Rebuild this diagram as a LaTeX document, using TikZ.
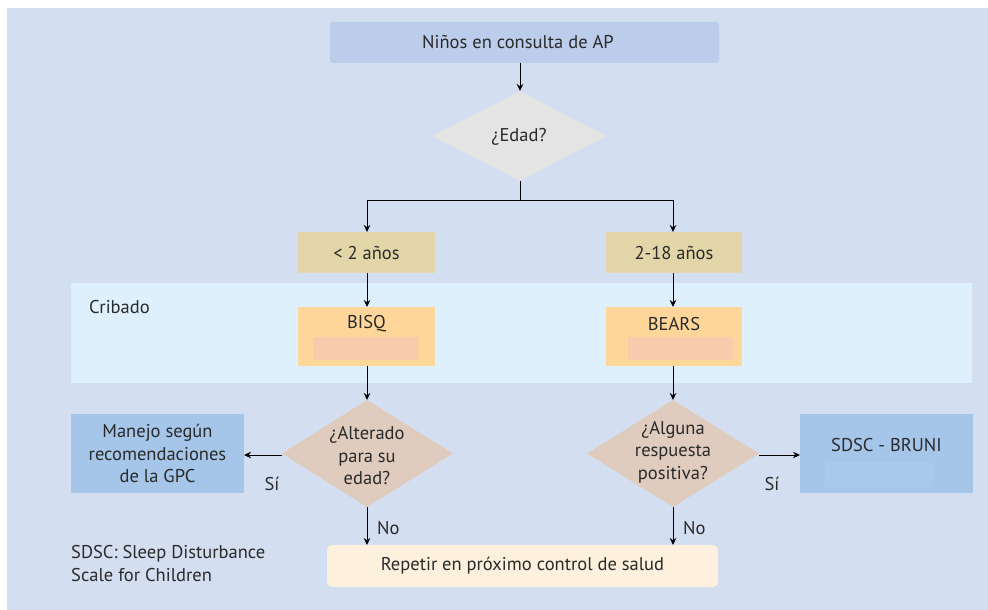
\documentclass[tikz,border=0pt]{standalone}
\usepackage{fontspec}
\setmainfont{PT Sans}
\usetikzlibrary{shapes.geometric,arrows.meta}
\definecolor{bgc}{HTML}{D3DEF0}
\definecolor{topc}{HTML}{BCCDEB}
\definecolor{diagc}{HTML}{E4E4E4}
\definecolor{agec}{HTML}{E2D5A8}
\definecolor{cribc}{HTML}{DEF0FC}
\definecolor{testc}{HTML}{FED69A}
\definecolor{testin}{HTML}{F7CBAE}
\definecolor{decc}{HTML}{DFCCBF}
\definecolor{outc}{HTML}{A5C5E9}
\definecolor{outin}{HTML}{A9C9EA}
\definecolor{repc}{HTML}{FDF0DC}
\definecolor{txt}{HTML}{2A2A2A}
\tikzset{
  x=1pt,y=-1pt,
  every node/.style={text=txt,font=\fontsize{18.5}{22}\selectfont,inner sep=0pt},
  arr/.style={draw=black,line width=1pt,-{Stealth[length=7pt,width=6.5pt]}},
  ln/.style={draw=black,line width=1pt},
  ml/.style={align=center,font=\fontsize{18.5}{22.5}\selectfont},
}
\begin{document}
\begin{tikzpicture}
\useasboundingbox (0,0) rectangle (988,610);
\fill[white] (0,0) rectangle (988,610);
\fill[bgc] (7,8) rectangle (988,610);
% cribado band
\fill[cribc] (71,283) rectangle (972,383);
\node[anchor=west] (crib) at (89,307) {Cribado};
% top
\fill[topc,rounded corners=3pt] (330,22) rectangle (719,63);
\node (top) at (518,42.5) {Niños en consulta de AP};
\coordinate (topb) at (520,63);
% edad diamond
\fill[diagc] (520,91) -- (606,136) -- (520,181) -- (432,136) -- cycle;
\node (edad) at (519,137) {¿Edad?};
\coordinate (edadt) at (520,91);
\coordinate (edadb) at (520,181);
\coordinate (split) at (520,200);
\draw[arr] (topb) -- (edadt);
% age boxes
\fill[agec] (298,232) rectangle (435,273);
\node (lt2) at (366.5,253) {< 2 años};
\fill[agec] (606,232) rectangle (742,273);
\node (r218) at (674,253) {2-18 años};
\coordinate (lt2t) at (367,232);
\coordinate (r218t) at (673,232);
\draw[ln] (edadb) -- (split);
\draw[arr] (split) -| (lt2t);
\draw[arr] (split) -| (r218t);
% test boxes
\fill[testc] (298,307) rectangle (435,366);
\fill[testin] (313,337) rectangle (418,360);
\node (bisq) at (366.5,324) {BISQ};
\fill[testc] (606,307) rectangle (742,366);
\fill[testin] (628,337) rectangle (733,360);
\node (bears) at (674,324) {BEARS};
\coordinate (bisqt) at (367,307);
\coordinate (bisqb) at (367,366);
\coordinate (bearst) at (673,307);
\coordinate (bearsb) at (673,366);
\draw[arr] (367,273) -- (bisqt);
\draw[arr] (673,273) -- (bearst);
% decision diamonds
\fill[decc] (367,400) -- (453,453.5) -- (367,507) -- (282,453.5) -- cycle;
\node[ml] (alt) at (367,456) {¿Alterado\\para su\\edad?};
\fill[decc] (673,400) -- (759,453.5) -- (673,507) -- (587,453.5) -- cycle;
\node[ml] (alg) at (673,452) {¿Alguna\\respuesta\\positiva?};
\draw[arr] (bisqb) -- (367,400);
\draw[arr] (bearsb) -- (673,400);
% outcome boxes
\fill[outc] (71,414) rectangle (244,493);
\node[ml] (man) at (157.5,453.5) {Manejo según\\recomendaciones\\de la GPC};
\fill[outc] (800,414) rectangle (973,493);
\fill[outin] (825,462) rectangle (933,487);
\node (bruni) at (886.5,445) {SDSC - BRUNI};
\draw[arr] (282,455) -- (244,455);
\draw[arr] (759,455) -- (800,455);
\node (si1) at (272,484) {Sí};
\node (si2) at (772,484) {Sí};
% repetir
\fill[repc,rounded corners=5pt] (327,545) rectangle (718,587);
\node (rep) at (522.5,566) {Repetir en próximo control de salud};
\draw[arr] (367,507) -- (367,545);
\draw[arr] (673,507) -- (673,545);
\node[anchor=west] (no1) at (377,528) {No};
\node[anchor=west] (no2) at (683,528) {No};
% note
\node[anchor=west,align=left,font=\fontsize{18.5}{23}\selectfont] (note) at (71,563.5) {SDSC: Sleep Disturbance\\Scale for Children};
\end{tikzpicture}
\end{document}
